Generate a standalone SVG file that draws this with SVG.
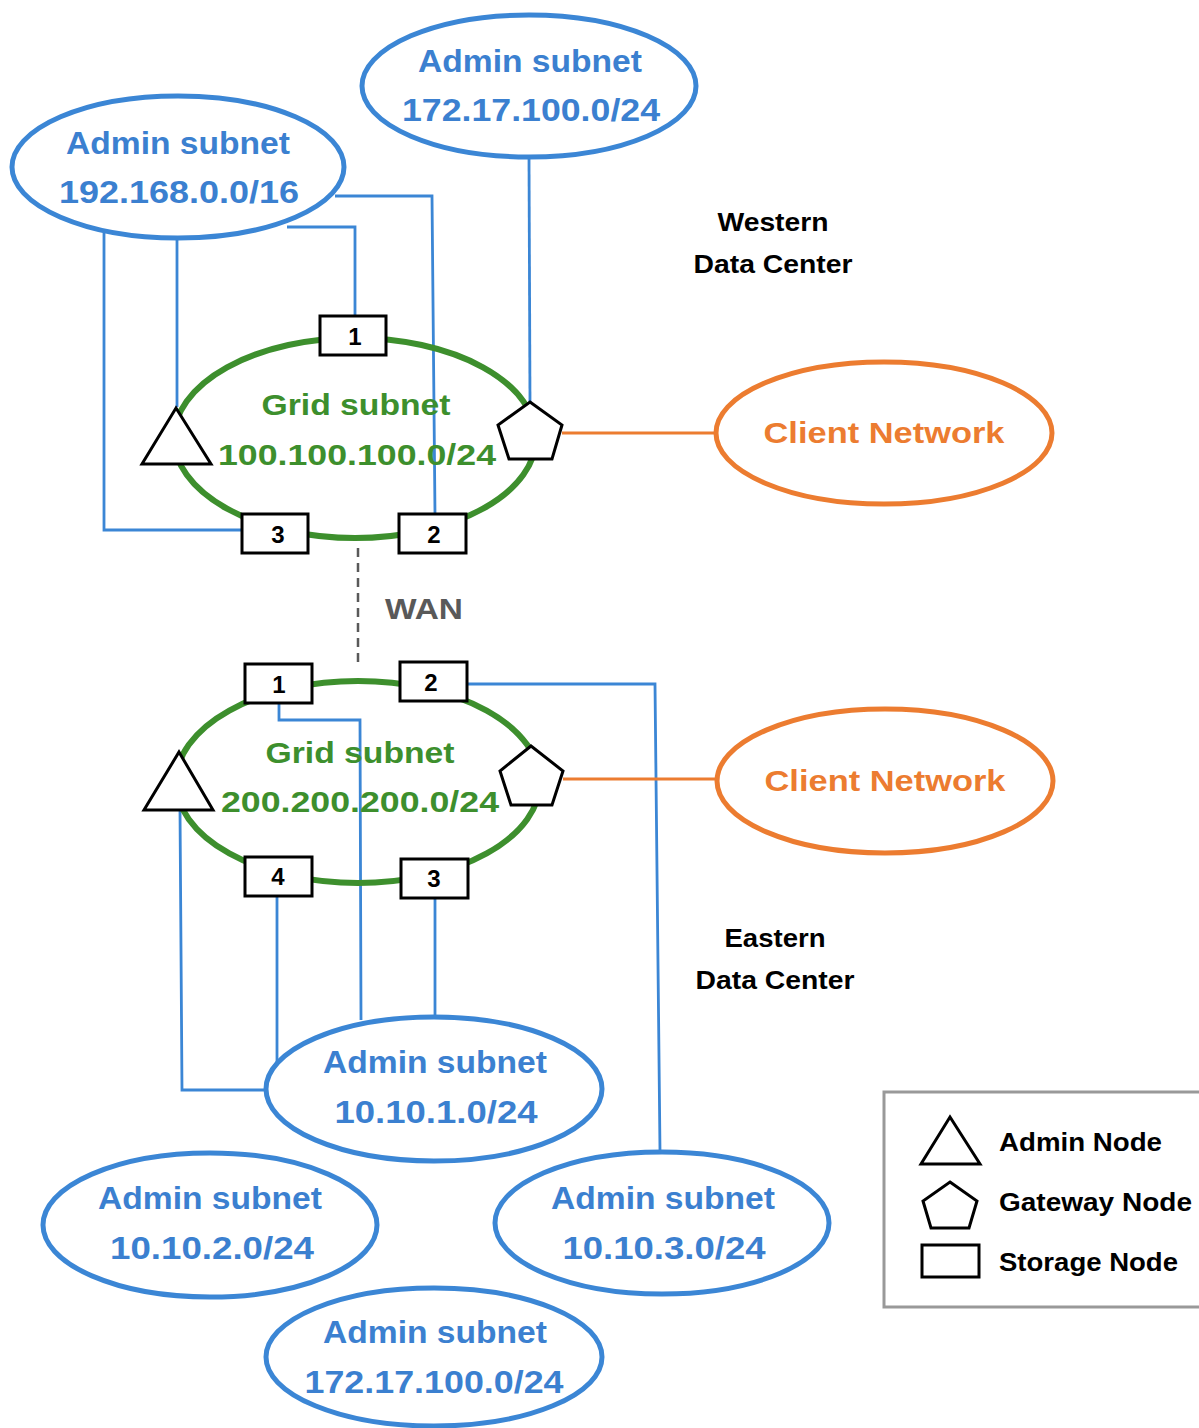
<svg xmlns="http://www.w3.org/2000/svg" width="1199" height="1428" viewBox="0 0 1199 1428">
<style>
.bg{fill:#fff}
.adm{fill:none;stroke:#3b86d5;stroke-width:5}
.grid{fill:none;stroke:#3d8f2d;stroke-width:6}
.cli{fill:none;stroke:#ec7c30;stroke-width:5}
.shape{fill:#fff;stroke:#000;stroke-width:3;stroke-linejoin:miter}
.box{fill:#fff;stroke:#000;stroke-width:3}
.bl{fill:none;stroke:#3b86d5;stroke-width:2.8}
.or{fill:none;stroke:#ec7c30;stroke-width:2.8}
.wan{fill:none;stroke:#595959;stroke-width:2.5;stroke-dasharray:9 6}
text{font-family:"Liberation Sans",Arial,sans-serif;font-weight:bold;text-anchor:middle;dominant-baseline:central}
.ta{fill:#3b80d0;font-size:31px}
.tg{fill:#3d8f2d;font-size:30px}
.tc{fill:#ec7c30;font-size:30px}
.tn{fill:#000;font-size:24px}
.tl{fill:#000;font-size:25px}
.tw{fill:#595959;font-size:30px}
.leg{text-anchor:start}
</style>
<rect class="bg" width="1199" height="1428"/>

<g id="connectors">
  <!-- western -->
  <polyline class="bl" points="104,233 104,530 241,530"/>
  <polyline class="bl" points="177,238 177,407"/>
  <polyline class="bl" points="287,227 355,227 355,316"/>
  <polyline class="bl" points="335,196 432,196 435,514"/>
  <polyline class="bl" points="529,157 530,402"/>
  <line class="or" x1="562" y1="433" x2="716" y2="433"/>
  <!-- WAN -->
  <line class="wan" x1="358" y1="548" x2="358" y2="668"/>
  <!-- eastern -->
  <polyline class="bl" points="468,684 655,684 660,1151"/>
  <polyline class="bl" points="279,704 279,720 360,720 361,1020"/>
  <polyline class="bl" points="180,810 182,1090 267,1090"/>
  <polyline class="bl" points="277,896 277,1062"/>
  <polyline class="bl" points="435,898 435,1017"/>
  <line class="or" x1="563" y1="779" x2="717" y2="779"/>
</g>

<g id="admin-192">
  <ellipse class="adm" cx="178" cy="167" rx="166" ry="71"/>
  <text class="ta" x="178" y="143" textLength="224" lengthAdjust="spacingAndGlyphs">Admin subnet</text>
  <text class="ta" x="179" y="192" textLength="240" lengthAdjust="spacingAndGlyphs">192.168.0.0/16</text>
</g>
<g id="admin-172-west">
  <ellipse class="adm" cx="529" cy="86" rx="167" ry="71"/>
  <text class="ta" x="530" y="61" textLength="224" lengthAdjust="spacingAndGlyphs">Admin subnet</text>
  <text class="ta" x="531" y="110" textLength="258" lengthAdjust="spacingAndGlyphs">172.17.100.0/24</text>
</g>

<g id="grid-west">
  <ellipse class="grid" cx="355" cy="438" rx="181" ry="100"/>
  <text class="tg" x="356" y="404" textLength="189" lengthAdjust="spacingAndGlyphs">Grid subnet</text>
  <text class="tg" x="357" y="454" textLength="278" lengthAdjust="spacingAndGlyphs">100.100.100.0/24</text>
</g>
<g id="w-storage-1"><rect class="box" x="320" y="316" width="66" height="39"/><text class="tn" x="355" y="336">1</text></g>
<g id="w-storage-3"><rect class="box" x="242" y="514" width="66" height="39"/><text class="tn" x="278" y="534">3</text></g>
<g id="w-storage-2"><rect class="box" x="399" y="514" width="67" height="39"/><text class="tn" x="434" y="534">2</text></g>
<g id="w-admin-node"><polygon class="shape" points="176,408 211,464 142,464"/></g>
<g id="w-gateway-node"><polygon class="shape" points="530,402 562,425 552,459 509,459 498,425"/></g>

<g id="client-west">
  <ellipse class="cli" cx="884" cy="433" rx="168" ry="71"/>
  <text class="tc" x="884" y="432" textLength="241" lengthAdjust="spacingAndGlyphs">Client Network</text>
</g>

<g id="label-west">
  <text class="tl" x="773" y="222" textLength="111" lengthAdjust="spacingAndGlyphs">Western</text>
  <text class="tl" x="773" y="264" textLength="159" lengthAdjust="spacingAndGlyphs">Data Center</text>
</g>

<g id="wan-label"><text class="tw" x="424" y="608" textLength="78" lengthAdjust="spacingAndGlyphs">WAN</text></g>

<g id="grid-east">
  <ellipse class="grid" cx="358" cy="782" rx="182" ry="101"/>
  <text class="tg" x="360" y="752" textLength="189" lengthAdjust="spacingAndGlyphs">Grid subnet</text>
  <text class="tg" x="360" y="801" textLength="278" lengthAdjust="spacingAndGlyphs">200.200.200.0/24</text>
</g>
<g id="e-storage-1"><rect class="box" x="245" y="664" width="67" height="39"/><text class="tn" x="279" y="684">1</text></g>
<g id="e-storage-2"><rect class="box" x="400" y="662" width="67" height="39"/><text class="tn" x="431" y="682">2</text></g>
<g id="e-storage-4"><rect class="box" x="245" y="857" width="67" height="39"/><text class="tn" x="278" y="876">4</text></g>
<g id="e-storage-3"><rect class="box" x="401" y="859" width="67" height="39"/><text class="tn" x="434" y="878">3</text></g>
<g id="e-admin-node"><polygon class="shape" points="179,752 213,810 144,810"/></g>
<g id="e-gateway-node"><polygon class="shape" points="531,746 563,771 552,805 511,805 500,771"/></g>

<g id="client-east">
  <ellipse class="cli" cx="885" cy="781" rx="168" ry="72"/>
  <text class="tc" x="885" y="780" textLength="241" lengthAdjust="spacingAndGlyphs">Client Network</text>
</g>

<g id="label-east">
  <text class="tl" x="775" y="938" textLength="101" lengthAdjust="spacingAndGlyphs">Eastern</text>
  <text class="tl" x="775" y="980" textLength="159" lengthAdjust="spacingAndGlyphs">Data Center</text>
</g>

<g id="admin-10-10-1">
  <ellipse class="adm" cx="434" cy="1089" rx="168" ry="72"/>
  <text class="ta" x="435" y="1062" textLength="224" lengthAdjust="spacingAndGlyphs">Admin subnet</text>
  <text class="ta" x="436" y="1112" textLength="203" lengthAdjust="spacingAndGlyphs">10.10.1.0/24</text>
</g>
<g id="admin-10-10-2">
  <ellipse class="adm" cx="210" cy="1225" rx="167" ry="72"/>
  <text class="ta" x="210" y="1198" textLength="224" lengthAdjust="spacingAndGlyphs">Admin subnet</text>
  <text class="ta" x="212" y="1248" textLength="204" lengthAdjust="spacingAndGlyphs">10.10.2.0/24</text>
</g>
<g id="admin-10-10-3">
  <ellipse class="adm" cx="662" cy="1223" rx="167" ry="71"/>
  <text class="ta" x="663" y="1198" textLength="224" lengthAdjust="spacingAndGlyphs">Admin subnet</text>
  <text class="ta" x="664" y="1248" textLength="203" lengthAdjust="spacingAndGlyphs">10.10.3.0/24</text>
</g>
<g id="admin-172-east">
  <ellipse class="adm" cx="434" cy="1357" rx="168" ry="69"/>
  <text class="ta" x="435" y="1332" textLength="224" lengthAdjust="spacingAndGlyphs">Admin subnet</text>
  <text class="ta" x="434" y="1382" textLength="259" lengthAdjust="spacingAndGlyphs">172.17.100.0/24</text>
</g>

<g id="legend">
  <rect x="884" y="1092" width="320" height="215" fill="none" stroke="#999" stroke-width="3"/>
  <polygon class="shape" points="950,1117 980,1164 921,1164"/>
  <text class="tl leg" x="999" y="1142" textLength="163" lengthAdjust="spacingAndGlyphs">Admin Node</text>
  <polygon class="shape" points="950,1182 977,1201 969,1228 931,1228 923,1201"/>
  <text class="tl leg" x="999" y="1202" textLength="193" lengthAdjust="spacingAndGlyphs">Gateway Node</text>
  <rect class="box" x="922" y="1245" width="57" height="32"/>
  <text class="tl leg" x="999" y="1262" textLength="179" lengthAdjust="spacingAndGlyphs">Storage Node</text>
</g>
</svg>
